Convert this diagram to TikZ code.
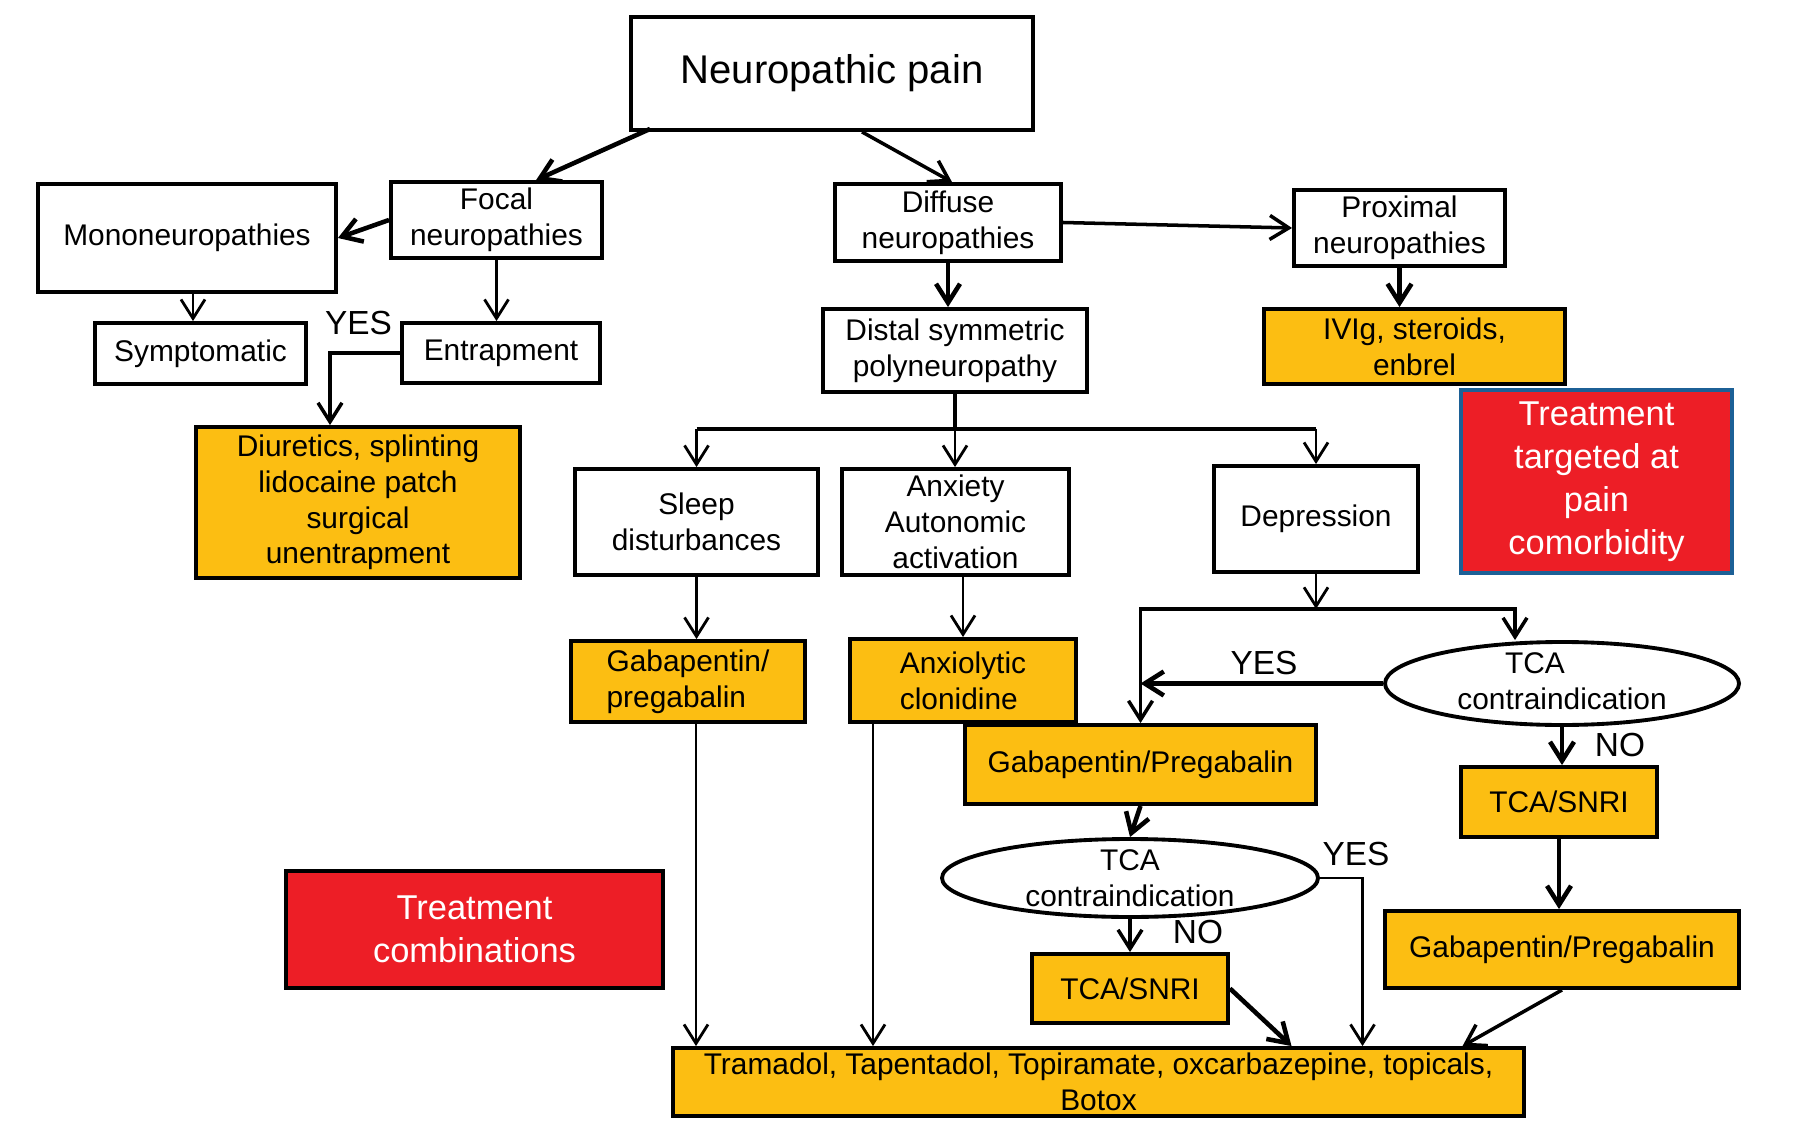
\documentclass[tikz,border=0pt]{standalone}
\usepackage{fontspec}
\setmainfont{Liberation Sans}
\usetikzlibrary{arrows.meta, calc, shapes.geometric}

\definecolor{drugyellow}{RGB}{252,190,18}
\definecolor{comored}{RGB}{237,30,38}
\definecolor{comoblue}{RGB}{28,96,150}

\begin{document}
\begin{tikzpicture}[
  >={Straight Barb[length=1.9mm,width=2.4mm]},
  box/.style={draw, line width=1.1pt, align=center, inner sep=0pt, font=\fontsize{8.5}{10.2}\selectfont},
  drug/.style={box, fill=drugyellow},
  redbox/.style={box, fill=comored, text=white, font=\fontsize{9.8}{12.2}\selectfont},
  oval/.style={draw, ellipse, line width=1.1pt, inner sep=0pt},
  ovaltext/.style={align=center, inner sep=0pt, font=\fontsize{8.5}{10.2}\selectfont},
  answer/.style={inner sep=0pt, font=\fontsize{9.5}{11}\selectfont},
  lightarrow/.style={->, line width=0.8pt},
  midarrow/.style={->, line width=1pt},
  heavyarrow/.style={->, line width=1.3pt},
]
\useasboundingbox (0,0) rectangle (18.08,-11.44);

% Top levels
\node[box, minimum width=4.02cm, minimum height=1.13cm, font=\fontsize{11.4}{13}\selectfont] (pain) at (8.32,-0.735) {Neuropathic pain};
\node[box, minimum width=2.98cm, minimum height=1.08cm] (mono) at (1.87,-2.38) {Mononeuropathies};
\node[box, minimum width=2.11cm, minimum height=0.76cm] (focal) at (4.965,-2.20) {Focal\\neuropathies};
\node[box, minimum width=2.26cm, minimum height=0.77cm] (diffuse) at (9.48,-2.225) {Diffuse\\neuropathies};
\node[box, minimum width=2.11cm, minimum height=0.76cm] (proximal) at (13.995,-2.28) {Proximal\\neuropathies};
\node[box, minimum width=2.11cm, minimum height=0.61cm] (sympt) at (2.005,-3.535) {Symptomatic};
\node[box, minimum width=1.98cm, minimum height=0.60cm] (entrap) at (5.01,-3.53) {Entrapment};
\node[box, minimum width=2.64cm, minimum height=0.83cm] (distal) at (9.55,-3.505) {Distal symmetric\\polyneuropathy};
\node[drug, minimum width=3.01cm, minimum height=0.75cm] (ivig) at (14.145,-3.465) {IVIg, steroids,\\enbrel};
\node[redbox, draw=comoblue, minimum width=2.71cm, minimum height=1.83cm] (targeted) at (15.965,-4.815) {Treatment\\targeted at\\pain\\comorbidity};
\node[drug, minimum width=3.24cm, minimum height=1.51cm] (diuretics) at (3.58,-5.025) {Diuretics, splinting\\lidocaine patch\\surgical\\unentrapment};

% Comorbidities
\node[box, minimum width=2.43cm, minimum height=1.06cm] (sleep) at (6.965,-5.22) {Sleep\\disturbances};
\node[box, minimum width=2.27cm, minimum height=1.06cm] (anxiety) at (9.555,-5.22) {Anxiety\\Autonomic\\activation};
\node[box, minimum width=2.04cm, minimum height=1.06cm] (depression) at (13.16,-5.19) {Depression};
\node[drug, align=left, minimum width=2.34cm, minimum height=0.81cm] (gabaS) at (6.88,-6.815) {Gabapentin/\\pregabalin};
\node[drug, align=left, minimum width=2.26cm, minimum height=0.83cm] (anxio) at (9.63,-6.805) {Anxiolytic\\clonidine};

% Depression branch
\node[oval, minimum width=3.54cm, minimum height=0.83cm] (tcaR) at (15.62,-6.835) {};
\node[ovaltext] (tcaRtext) at (15.62,-6.81) {TCA\hspace*{5.4mm}\\contraindication};
\node[drug, minimum width=3.51cm, minimum height=0.79cm] (gabaM) at (11.405,-7.645) {Gabapentin/Pregabalin};
\node[drug, minimum width=1.96cm, minimum height=0.70cm] (snriR) at (15.59,-8.02) {TCA/SNRI};
\node[oval, minimum width=3.76cm, minimum height=0.78cm] (tcaM) at (11.30,-8.78) {};
\node[ovaltext] (tcaMtext) at (11.30,-8.78) {TCA\\contraindication};
\node[drug, minimum width=3.54cm, minimum height=0.77cm] (gabaR) at (15.62,-9.495) {Gabapentin/Pregabalin};
\node[drug, minimum width=1.96cm, minimum height=0.69cm] (snriM) at (11.30,-9.885) {TCA/SNRI};

% Bottom
\node[redbox, minimum width=3.77cm, minimum height=1.17cm] (combos) at (4.745,-9.295) {Treatment\\combinations};
\node[drug, minimum width=8.51cm, minimum height=0.68cm] (tramadol) at (10.985,-10.82) {Tramadol, Tapentadol, Topiramate, oxcarbazepine, topicals,\\Botox};

% Answers
\node[answer] (yesA) at (3.586,-3.23) {YES};
\node[answer] (yesB) at (12.64,-6.63) {YES};
\node[answer] (noB) at (16.20,-7.45) {NO};
\node[answer] (yesC) at (13.56,-8.54) {YES};
\node[answer] (noC) at (11.98,-9.32) {NO};

% Draw connectors
\draw[heavyarrow] ([xshift=2.1mm,yshift=0.3mm]pain.south west) -- ([xshift=14.7mm]focal.north west);
\draw[midarrow] ([xshift=3mm]pain.south) -- ([xshift=0.4mm]diffuse.north);
\draw[heavyarrow] (focal.west) -- (mono.east);
\draw[lightarrow] (focal.south) -- (focal.south |- entrap.north);
\draw[lightarrow] ([xshift=0.6mm]mono.south) -- ([xshift=0.6mm]mono.south |- sympt.north);
\draw[midarrow] (entrap.west) -| ([xshift=-2.8mm]diuretics.north);
\draw[heavyarrow] (diffuse.south) -- (diffuse.south |- distal.north);
\draw[midarrow] (diffuse.east) -- (proximal.west);
\draw[heavyarrow] (proximal.south) -- (proximal.south |- ivig.north);

% Split to comorbidities
\coordinate (split) at ($(distal.south)+(0,-0.35)$);
\draw[line width=1.2pt] (distal.south) -- (split);
\draw[line width=1.2pt] (split -| sleep.north) -- (split -| depression.north);
\draw[lightarrow] (split -| sleep.north) -- (sleep.north);
\draw[lightarrow] (split) -- (split |- anxiety.north);
\draw[lightarrow] (split -| depression.north) -- (depression.north);
\draw[lightarrow] (sleep.south) -- (sleep.south |- gabaS.north);
\draw[lightarrow] (anxiety.south -| anxio.north) -- (anxio.north);

% Depression choices
\coordinate (dsplit) at ($(depression.south)+(0,-0.35)$);
\coordinate (tcaRtop) at ([xshift=-4.7mm]tcaR.north);
\draw[lightarrow] (depression.south) -- (dsplit);
\draw[midarrow] (dsplit) -| (tcaRtop);
\draw[midarrow] (dsplit) -| (gabaM.north);
\draw[heavyarrow] (tcaR.west) -- (tcaR.west -| gabaM.north);
\draw[heavyarrow] (tcaR.south) -- (tcaR.south |- snriR.north);
\draw[heavyarrow] (snriR.south) -- (snriR.south |- gabaR.north);
\draw[midarrow] (gabaR.south) -- ([xshift=36.4mm]tramadol.north);
\draw[heavyarrow] (gabaM.south) -- (tcaM.north);
\draw[midarrow] (tcaM.south) -- (snriM.north);
\draw[lightarrow] (tcaM.east) -| ([xshift=26.4mm]tramadol.north);
\draw[heavyarrow] (snriM.east) -- ([xshift=19.3mm]tramadol.north);
\draw[lightarrow] ([xshift=0.8mm]gabaS.south) -- ([xshift=0.8mm]gabaS.south |- tramadol.north);
\draw[lightarrow] ([xshift=-9mm]anxio.south) -- ([xshift=-9mm]anxio.south |- tramadol.north);

\end{tikzpicture}
\end{document}
